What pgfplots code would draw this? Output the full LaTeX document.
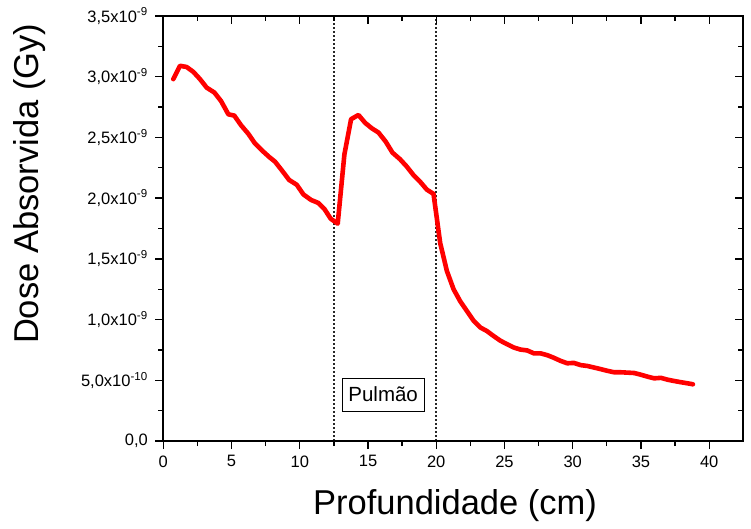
\documentclass[border=0pt]{standalone}
\usepackage{fontspec}
\setmainfont{Liberation Sans}
\usepackage{pgfplots}
\pgfplotsset{compat=1.18}

\newcommand{\sci}[2]{#1x10\textsuperscript{#2}}

\begin{document}
\begin{tikzpicture}
\useasboundingbox (-163.3pt,-88pt) rectangle (587.7pt,441pt);
\pgfplotsset{
  doseaxis/.style={
    at={(0,0)}, anchor=south west,
    scale only axis, width=580pt, height=425pt,
    xmin=0, xmax=42.5, ymin=0, ymax=3.5e-9,
    xtick={0,5,...,40},
    ytick={0,0.5e-9,1e-9,1.5e-9,2e-9,2.5e-9,3e-9,3.5e-9},
    minor x tick num=1, minor y tick num=1,
    scaled y ticks=false,
    axis line style={line width=1.8pt},
    major tick style={line width=1.3pt, black},
    minor tick style={line width=1.3pt, black},
    major tick length=8pt, minor tick length=5pt,
  }
}
\begin{axis}[
  doseaxis,
  tick align=outside,
  xtick pos=left, ytick pos=left,
  xticklabel style={font=\fontsize{16.5}{19}\selectfont, /pgf/number format/assume math mode=true, yshift=-3pt},
  yticklabel style={font=\fontsize{16.5}{19}\selectfont, xshift=-4pt},
  yticklabels={{0,0},{\sci{5,0}{-10}},{\sci{1,0}{-9}},{\sci{1,5}{-9}},{\sci{2,0}{-9}},{\sci{2,5}{-9}},{\sci{3,0}{-9}},{\sci{3,5}{-9}}},
  xlabel={Profundidade (cm)},
  ylabel={Dose Absorvida (Gy)},
  xlabel style={font=\fontsize{34.5}{40}\selectfont, at={(axis description cs:0.503,0)}, anchor=base, yshift=-74pt},
  ylabel style={font=\fontsize{34.5}{40}\selectfont, at={(axis description cs:0,0.605)}, anchor=base, yshift=125pt},
  clip=false,
]
% lung region boundaries
\addplot[black!85, line width=1.5pt, dash pattern=on 1.5pt off 2.5pt] coordinates {(12.5,0) (12.5,3.5e-9)};
\addplot[black!85, line width=1.5pt, dash pattern=on 1.5pt off 2.5pt] coordinates {(20,0) (20,3.5e-9)};

% absorbed dose along depth
\addplot[red, line width=4.6pt, line join=round, line cap=round] coordinates {
(0.73,2.98e-9) (1.22,3.09e-9) (1.71,3.08e-9) (2.20,3.04e-9) (2.69,2.98e-9)
(3.18,2.91e-9) (3.74,2.87e-9) (4.23,2.80e-9) (4.77,2.69e-9) (5.20,2.68e-9)
(5.70,2.60e-9) (6.23,2.53e-9) (6.72,2.45e-9) (7.26,2.39e-9) (7.75,2.34e-9)
(8.19,2.30e-9) (8.68,2.23e-9) (9.22,2.15e-9) (9.78,2.11e-9) (10.27,2.03e-9)
(10.83,1.985e-9) (11.37,1.96e-9) (11.81,1.91e-9) (12.27,1.83e-9) (12.78,1.79e-9)
(13.27,2.36e-9) (13.76,2.65e-9) (14.30,2.685e-9) (14.79,2.62e-9) (15.28,2.575e-9)
(15.77,2.54e-9) (16.30,2.465e-9) (16.79,2.375e-9) (17.35,2.32e-9) (17.84,2.26e-9)
(18.33,2.19e-9) (18.82,2.135e-9) (19.31,2.07e-9) (19.80,2.035e-9) (20.29,1.63e-9)
(20.78,1.40e-9) (21.27,1.25e-9) (21.76,1.15e-9) (22.25,1.07e-9) (22.74,0.99e-9)
(23.23,0.935e-9) (23.72,0.905e-9) (24.21,0.864e-9) (24.70,0.826e-9) (25.19,0.797e-9)
(25.68,0.770e-9) (26.17,0.753e-9) (26.66,0.746e-9) (27.15,0.722e-9) (27.64,0.722e-9)
(28.13,0.707e-9) (28.62,0.685e-9) (29.11,0.660e-9) (29.60,0.640e-9) (30.09,0.643e-9)
(30.58,0.625e-9) (31.07,0.618e-9) (31.56,0.605e-9) (32.05,0.592e-9) (32.54,0.578e-9)
(33.03,0.566e-9) (33.52,0.566e-9) (34.01,0.563e-9) (34.50,0.560e-9) (34.99,0.546e-9)
(35.48,0.530e-9) (35.97,0.516e-9) (36.46,0.520e-9) (36.95,0.505e-9) (37.44,0.494e-9)
(37.93,0.484e-9) (38.42,0.475e-9) (38.81,0.467e-9)
};

\node[draw=black, line width=0.8pt, fill=white, minimum width=82pt, minimum height=33pt, inner sep=0pt,
      font=\fontsize{20.5}{24}\selectfont] at (axis cs:16.11,0.383e-9) {Pulmão};
\end{axis}

% mirrored ticks on top and right, pointing inwards
\begin{axis}[
  doseaxis,
  tick align=inside,
  xtick pos=right, ytick pos=right,
  xticklabels={}, yticklabels={},
]
\end{axis}
\end{tikzpicture}
\end{document}
